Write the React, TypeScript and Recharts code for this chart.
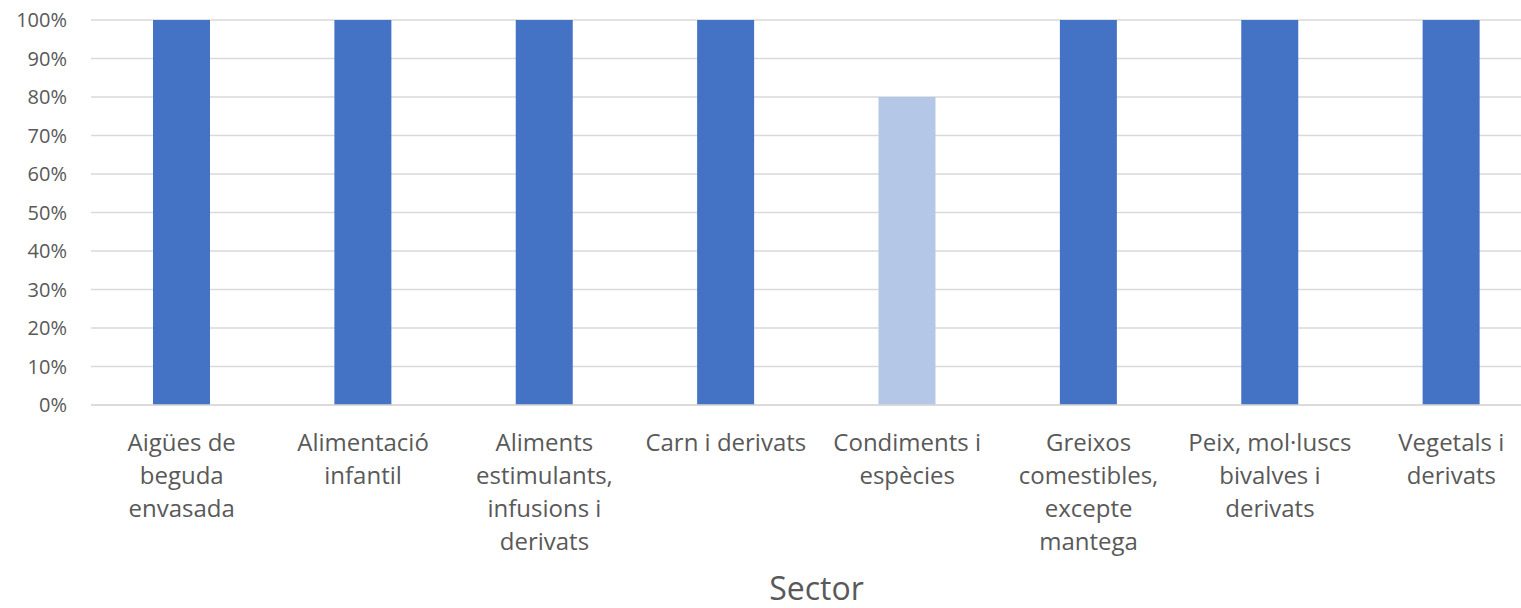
import { BarChart, Bar, Cell, CartesianGrid, XAxis, YAxis } from 'recharts'

// sector names; '\n' marks where each label wraps under its bar
const SECTORS = [
  'Aigües de\nbeguda\nenvasada',
  'Alimentació\ninfantil',
  'Aliments\nestimulants,\ninfusions i\nderivats',
  'Carn i derivats',
  'Condiments i\nespècies',
  'Greixos\ncomestibles,\nexcepte\nmantega',
  'Peix, mol·luscs\nbivalves i\nderivats',
  'Vegetals i\nderivats',
]

const SHARES = [1, 1, 1, 1, 0.8, 1, 1, 1]

const Y_TICKS = [0, 0.1, 0.2, 0.3, 0.4, 0.5, 0.6, 0.7, 0.8, 0.9, 1]

const AXIS_TITLE = 'Sector'

const BLUE = '#4472C4'
const LIGHT_BLUE = '#B4C7E7'
const GRID = '#D9D9D9'
const TEXT = '#595959'
const FONT = "'Open Sans', sans-serif"

const data = SECTORS.map((sector, i) => ({ sector, share: SHARES[i] }))

function SectorTick(props: { x?: number; y?: number; payload?: { value: string } }) {
  const { x = 0, y = 0, payload } = props
  const lines = (payload?.value ?? '').split('\n')
  return (
    <text x={x} y={y} textAnchor="middle" fill={TEXT} fontSize={24} fontFamily={FONT}>
      {lines.map((line, i) => (
        <tspan key={i} x={x} y={y + 46 + i * 33}>
          {line}
        </tspan>
      ))}
    </text>
  )
}

function AxisTitle(props: { viewBox?: { x: number; y: number; width: number; height: number } }) {
  const vb = props.viewBox
  if (!vb) return null
  return (
    <text
      x={vb.x + vb.width / 2}
      y={vb.y + 195}
      textAnchor="middle"
      fill={TEXT}
      fontSize={32}
      fontFamily={FONT}
    >
      {AXIS_TITLE}
    </text>
  )
}

export default function App() {
  return (
    <div
      style={{
        position: 'absolute',
        left: 0,
        top: 0,
        width: 1521,
        height: 608,
        overflow: 'hidden',
        background: '#fff',
      }}
    >
      <BarChart
        width={1560}
        height={608}
        data={data}
        margin={{ top: 20, right: 18, bottom: 0, left: 0 }}
      >
        <CartesianGrid vertical={false} stroke={GRID} strokeWidth={1.5} />
        <XAxis
          dataKey="sector"
          height={203}
          interval={0}
          tickLine={false}
          tickSize={0}
          tickMargin={0}
          axisLine={{ stroke: GRID, strokeWidth: 1.5 }}
          tick={<SectorTick />}
          label={<AxisTitle />}
        />
        <YAxis
          width={91}
          domain={[0, 1]}
          ticks={Y_TICKS}
          interval={0}
          axisLine={false}
          tickLine={false}
          tickSize={0}
          tickMargin={24}
          tickFormatter={(v: number) => `${Math.round(v * 100)}%`}
          tick={{ fill: TEXT, fontSize: 20, fontFamily: FONT }}
        />
        <Bar dataKey="share" barSize={57} isAnimationActive={false}>
          {data.map((d, i) => (
            <Cell key={d.sector} fill={d.share < 1 ? LIGHT_BLUE : BLUE} />
          ))}
        </Bar>
      </BarChart>
    </div>
  )
}
